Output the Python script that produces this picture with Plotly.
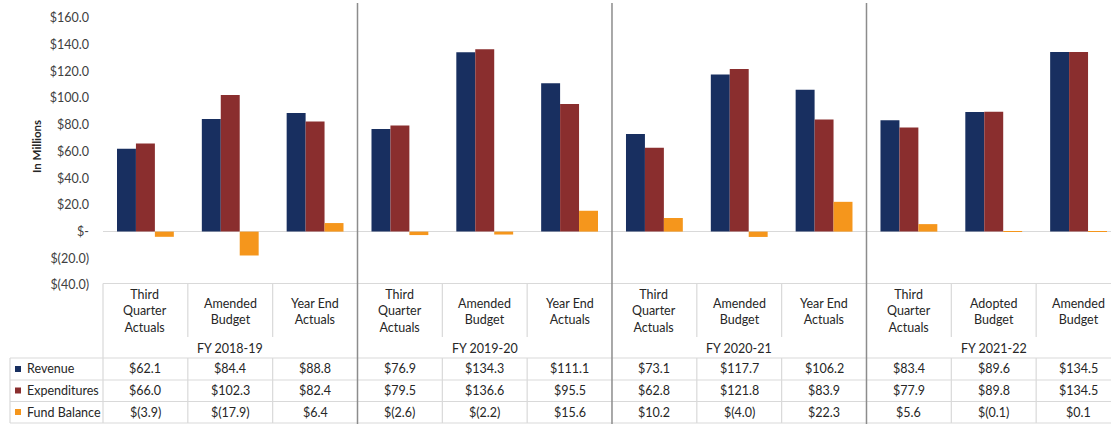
import plotly.graph_objects as go

# ---------------- data ----------------
categories = [
    "Third<br>Quarter<br>Actuals", "Amended<br>Budget", "Year End<br>Actuals",
    "Third<br>Quarter<br>Actuals", "Amended<br>Budget", "Year End<br>Actuals",
    "Third<br>Quarter<br>Actuals", "Amended<br>Budget", "Year End<br>Actuals",
    "Third<br>Quarter<br>Actuals", "Adopted<br>Budget", "Amended<br>Budget",
]
fiscal_years = ["FY 2018-19", "FY 2019-20", "FY 2020-21", "FY 2021-22"]
revenue = [62.1, 84.4, 88.8, 76.9, 134.3, 111.1, 73.1, 117.7, 106.2, 83.4, 89.6, 134.5]
expenditures = [66.0, 102.3, 82.4, 79.5, 136.6, 95.5, 62.8, 121.8, 83.9, 77.9, 89.8, 134.5]
fund_balance = [-3.9, -17.9, 6.4, -2.6, -2.2, 15.6, 10.2, -4.0, 22.3, 5.6, -0.1, 0.1]
series_names = ["Revenue", "Expenditures", "Fund Balance"]
y_ticks = [-40, -20, 0, 20, 40, 60, 80, 100, 120, 140, 160]

colors = ["#182f60", "#8a2e2e", "#f5961c"]

# ---------------- geometry (pixels) ----------------
W, H = 1111, 424
PL, PR, PT, PB = 103, 1111, 18, 285
X_MAX = 11.5 - (1121 - 1111) / 85.0


def px_x(p):
    return (p - PL) / (PR - PL)


def px_y(p):
    return (PB - p) / (PB - PT)


def money(v):
    if abs(v) < 1e-9:
        return "$-"
    if v < 0:
        return "$({:.1f})".format(-v)
    return "${:.1f}".format(v)


FONT = "Lato, 'Open Sans', sans-serif"
TXT = "#262626"
GRID = "#d9d9d9"
SEP = "#8c8c8c"

n = len(categories)
xs = list(range(n))

fig = go.Figure()
for name, vals, col in zip(series_names, [revenue, expenditures, fund_balance], colors):
    fig.add_trace(go.Bar(x=xs, y=vals, name=name, marker=dict(color=col, line=dict(width=0)),
                         showlegend=False))

shapes = []
annotations = []

# table top border and header left border
shapes.append(dict(type="line", xref="paper", yref="paper", x0=0, x1=1,
                   y0=px_y(283.5), y1=px_y(283.5), line=dict(color=GRID, width=1.2)))
shapes.append(dict(type="line", xref="paper", yref="paper", x0=0, x1=0,
                   y0=px_y(283.5), y1=px_y(423), line=dict(color=GRID, width=1.2)))

# header dividers between categories inside a group
for i in range(1, n):
    b = i - 0.5
    if i % 3 != 0:
        shapes.append(dict(type="line", xref="x", yref="paper", x0=b, x1=b,
                           y0=px_y(283.5), y1=px_y(337), line=dict(color=GRID, width=1.2)))
        shapes.append(dict(type="line", xref="x", yref="paper", x0=b, x1=b,
                           y0=px_y(358), y1=px_y(423), line=dict(color=GRID, width=1.2)))

# data row horizontal lines (including legend column)
row_lines = [358, 380, 401.5, 423]
for yl in row_lines:
    shapes.append(dict(type="line", xref="paper", yref="paper", x0=px_x(10), x1=1,
                       y0=px_y(yl), y1=px_y(yl), line=dict(color=GRID, width=1.2)))
shapes.append(dict(type="line", xref="paper", yref="paper", x0=px_x(10), x1=px_x(10),
                   y0=px_y(358), y1=px_y(423), line=dict(color=GRID, width=1.2)))

# group separators (dark)
for g in range(1, len(fiscal_years)):
    b = 3 * g - 0.5
    shapes.append(dict(type="line", xref="x", yref="paper", x0=b, x1=b,
                       y0=px_y(3), y1=px_y(424), line=dict(color=SEP, width=1.5)))

# category labels
for i, c in enumerate(categories):
    annotations.append(dict(xref="x", yref="paper", x=i, y=px_y(311), text=c, showarrow=False,
                            xanchor="center", yanchor="middle",
                            font=dict(family=FONT, size=12.5, color=TXT)))
# fiscal year labels
for g, fy in enumerate(fiscal_years):
    annotations.append(dict(xref="x", yref="paper", x=3 * g + 1, y=px_y(348), text=fy,
                            showarrow=False, xanchor="center", yanchor="middle",
                            font=dict(family=FONT, size=12.5, color=TXT)))

# data rows
row_centers = [369, 390.5, 412]
for r, (name, vals, col) in enumerate(zip(series_names, [revenue, expenditures, fund_balance], colors)):
    yc = row_centers[r]
    for i, v in enumerate(vals):
        annotations.append(dict(xref="x", yref="paper", x=i, y=px_y(yc), text=money(v),
                                showarrow=False, xanchor="center", yanchor="middle",
                                font=dict(family=FONT, size=12.5, color=TXT)))
    # legend key
    shapes.append(dict(type="rect", xref="paper", yref="paper", x0=px_x(15), x1=px_x(21),
                       y0=px_y(yc - 3), y1=px_y(yc + 3), fillcolor=col, line=dict(width=0)))
    annotations.append(dict(xref="paper", yref="paper", x=px_x(25), y=px_y(yc), text=name,
                            showarrow=False, xanchor="left", yanchor="middle",
                            font=dict(family=FONT, size=12.5, color=TXT)))

# y axis title
annotations.append(dict(xref="paper", yref="paper", x=px_x(36), y=px_y(147), text="In Millions",
                        textangle=-90, showarrow=False, xanchor="center", yanchor="middle",
                        font=dict(family=FONT, size=11.5, color=TXT, weight="bold")))

fig.update_layout(
    width=W, height=H,
    margin=dict(l=PL, r=W - PR, t=PT, b=H - PB, pad=0),
    paper_bgcolor="white", plot_bgcolor="white",
    barmode="group", bargap=0.33, bargroupgap=0,
    shapes=shapes, annotations=annotations,
    xaxis=dict(range=[-0.5, X_MAX], showticklabels=False, showgrid=False, zeroline=False,
               showline=False, ticks=""),
    yaxis=dict(range=[-40, 160], tickvals=y_ticks, ticktext=[money(v) for v in y_ticks],
               showgrid=False, zeroline=True, zerolinecolor=GRID, zerolinewidth=1.2,
               showline=False, ticks="", ticklabelstandoff=13,
               tickfont=dict(family=FONT, size=12.5, color="#404040")),
    font=dict(family=FONT),
)

fig.write_html("out.html", config={"displayModeBar": False},
               post_script="document.body.style.margin='0';document.body.style.overflow='hidden';")
